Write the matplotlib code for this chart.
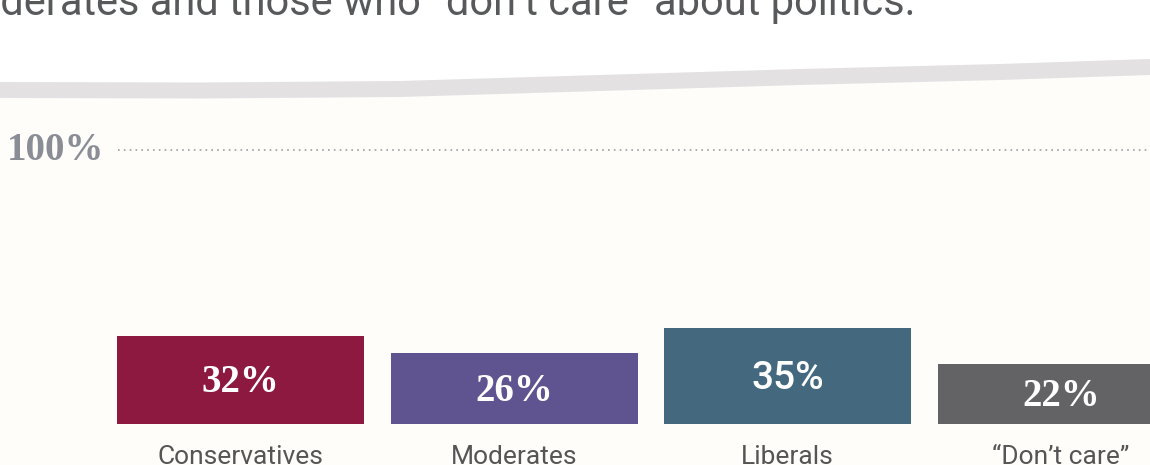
import matplotlib.pyplot as plt
import numpy as np

# Share of each group (percent)
groups = ["Conservatives", "Moderates", "Liberals", "\u201cDon\u2019t care\u201d"]
shares = [32, 26, 35, 22]
colors = ["#8E1940", "#5F5390", "#44697E", "#636366"]
subtitle = "moderates and those who \u201cdon\u2019t care\u201d about politics."

W, H = 1150, 465
fig = plt.figure(figsize=(W / 100, H / 100), dpi=100)
fig.patch.set_facecolor("white")

# --- background layer in pixel coordinates (swoosh band + cream panel) ---
bg = fig.add_axes([0, 0, 1, 1], zorder=0)
bg.set_xlim(0, W)
bg.set_ylim(H, 0)
bg.axis("off")

bx = np.array([0, 200, 400, 600, 800, 1000, 1150])
btop = np.array([82, 82.5, 81, 75, 69, 64, 59])
bbot = btop + 16
bg.fill_between(bx, bbot, H + 5, color="#FEFDF9", lw=0)
bg.fill_between(bx, btop, bbot, color="#E3E1E2", lw=0)

bg.text(916, 15, subtitle, ha="right", va="baseline", fontsize=30,
        family="Roboto", color="#58595B")

# --- bar layer ---
ax = fig.add_axes([0, 0, 1, 1], zorder=1)
ax.patch.set_alpha(0)
step = 273.5
x0 = 240.5
px = 2.74  # pixels per percentage point
base = 424
ax.set_xlim(-x0 / step, (W - x0) / step)
ax.set_ylim((base - H) / px, base / px)
ax.axis("off")

x = np.arange(len(groups))
ax.bar(x, shares, width=247 / step, color=colors, zorder=2)

# 100% reference line
ax.hlines(100, (118 - x0) / step, (W - x0) / step, colors="#9C9EA3",
          linewidth=1.2, linestyles=(0, (1, 2.5)))
ax.text((7 - x0) / step, 100, "100%", ha="left", va="center",
        fontsize=28, family="Liberation Serif", fontweight="bold",
        color="#8A8D96")

for i, v in enumerate(shares):
    fam = "Roboto" if i == 2 else "Liberation Serif"
    ax.text(x[i], v / 2 - 1, f"{v}%", ha="center", va="center", fontsize=28,
            family=fam, fontweight="bold" if i != 2 else "medium",
            color="white", zorder=3)
    ax.text(x[i], (base - 445) / px, groups[i], ha="center", va="top",
            fontsize=19, family="Roboto", color="#555555", clip_on=False)

plt.savefig("out.png", dpi=100, facecolor=fig.get_facecolor())
